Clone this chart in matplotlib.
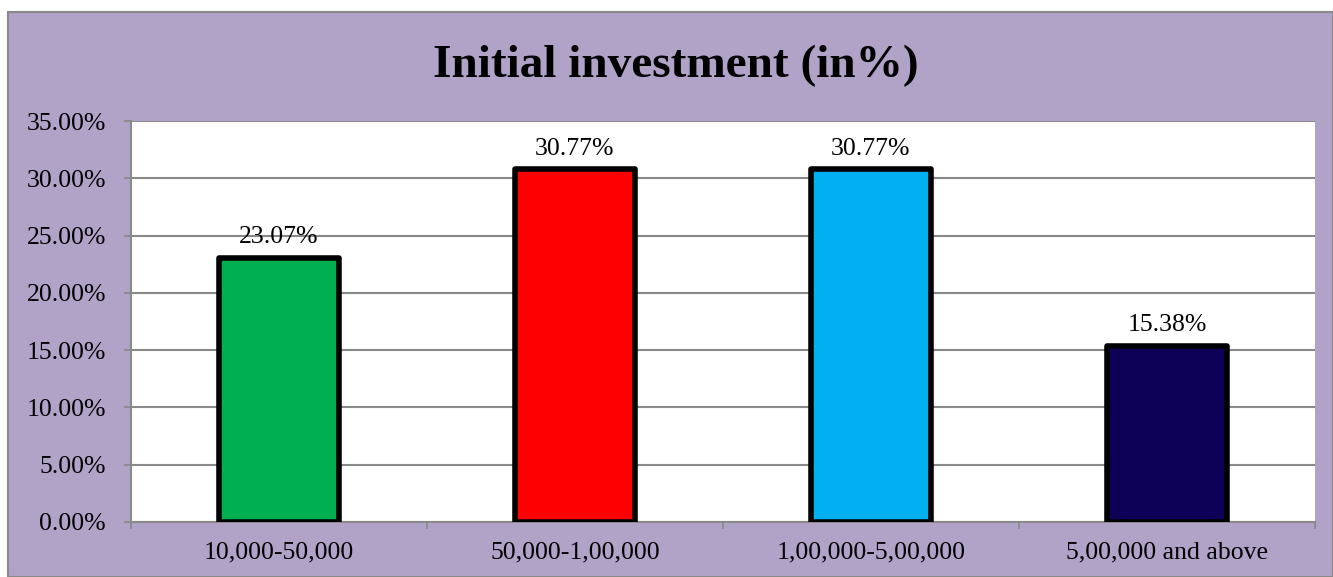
import matplotlib.pyplot as plt
from matplotlib.patches import Rectangle
from matplotlib.ticker import FuncFormatter, FixedLocator

categories = ['10,000-50,000', '50,000-1,00,000', '1,00,000-5,00,000', '5,00,000 and above']
shares = [23.07, 30.77, 30.77, 15.38]
bar_colors = ['#00B050', '#FF0000', '#00B0F0', '#0C0057']

purple = '#B1A2C7'
grid_gray = '#898989'

plt.rcParams['font.family'] = ['Liberation Serif', 'DejaVu Serif']

fig = plt.figure(figsize=(13.33, 5.77), dpi=100, facecolor='white')
# chart area background with thin gray frame, kept behind the axes
frame = Rectangle((8 / 1333, 0), 1 - 8 / 1333, 1 - 12 / 577,
                  transform=fig.transFigure, facecolor=purple,
                  edgecolor=grid_gray, linewidth=1.5, zorder=-10)
fig.add_artist(frame)

ax = fig.add_axes([131 / 1333, 1 - 522 / 577, (1315 - 131) / 1333, (522 - 121) / 577])
ax.set_facecolor('white')

x = range(len(categories))
bars = ax.bar(x, shares, width=0.405, color=bar_colors, edgecolor='black',
              linewidth=4, joinstyle='round', zorder=3)
for xi, v in zip(x, shares):
    ax.annotate(f'{v:.2f}%', (xi, v), xytext=(0, 7), textcoords='offset points',
                ha='center', va='bottom', fontsize=18.5, zorder=4)

ax.set_xlim(-0.5, len(categories) - 0.5)
ax.set_ylim(0, 35)
ax.set_yticks([0, 5, 10, 15, 20, 25, 30, 35])
ax.yaxis.set_major_formatter(FuncFormatter(lambda v, _: f'{v:.2f}%'))
ax.set_xticks(list(x))
ax.set_xticklabels(categories)
ax.xaxis.set_minor_locator(FixedLocator([i - 0.5 for i in range(len(categories) + 1)]))

ax.tick_params(axis='x', which='major', length=0, pad=14, labelsize=18.5)
ax.tick_params(axis='x', which='minor', length=5, width=1.3, color=grid_gray)
ax.tick_params(axis='y', length=5, width=1.3, color=grid_gray, labelsize=18.5, pad=13)

ax.grid(axis='y', color=grid_gray, linewidth=1.5, zorder=0)
ax.set_axisbelow(True)
for side in ['top', 'right']:
    ax.spines[side].set_visible(False)
for side in ['left', 'bottom']:
    ax.spines[side].set_color(grid_gray)
    ax.spines[side].set_linewidth(1.5)

fig.text(676 / 1333, 1 - 66 / 577, 'Initial investment (in%)', ha='center', va='center',
         fontsize=34, fontweight='bold')

fig.savefig('out.png', dpi=100, facecolor=fig.get_facecolor())
